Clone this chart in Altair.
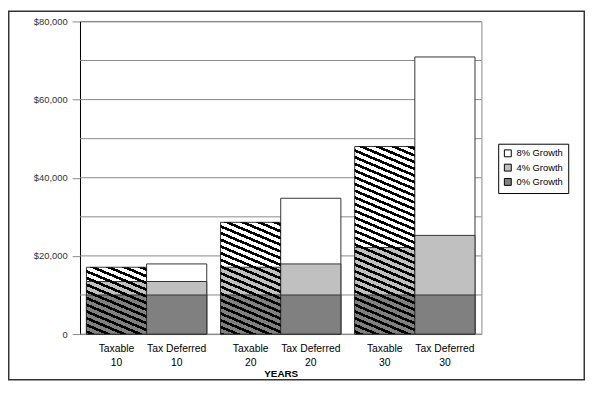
import altair as alt
import pandas as pd

# ---- data ----
years = ["10", "10", "20", "20", "30", "30"]
accounts = ["Taxable", "Tax Deferred", "Taxable", "Tax Deferred", "Taxable", "Tax Deferred"]
growth_0 = [10000, 10000, 10000, 10000, 10000, 10000]
growth_4 = [13450, 13450, 17100, 17950, 22150, 25250]
growth_8 = [17100, 17950, 28600, 34750, 48000, 70900]
series = ["8% Growth", "4% Growth", "0% Growth"]
series_colors = ["#ffffff", "#c0c0c0", "#808080"]
y_ticks = [0, 20000, 40000, 60000, 80000]
grid_values = [0, 10000, 20000, 30000, 40000, 50000, 60000, 70000, 80000]
year_order = ["10", "20", "30"]
account_order = ["Taxable", "Tax Deferred"]

W, H, YMAX = 407, 317, 80000
PI, PO = 0.103, 0.048
FONT = "Liberation Sans"

rows = []
for s, vals in zip(series, [growth_8, growth_4, growth_0]):
    for yr, ac, v in zip(years, accounts, vals):
        rows.append({"year": yr, "account": ac, "series": s, "value": v})
df = pd.DataFrame(rows)

lab = pd.DataFrame({"year": years, "account": accounts,
                    "label": [a + "\n" + y for a, y in zip(accounts, years)]})
grid_df = pd.DataFrame({"value": grid_values})

x_enc = alt.X("year:N", sort=year_order,
              scale=alt.Scale(paddingInner=PI, paddingOuter=PO),
              axis=alt.Axis(title="YEARS", labels=False, ticks=False, domain=False,
                            titlePadding=35, titleFont=FONT, titleFontSize=10,
                            titleFontWeight="bold", titleColor="#000"))
xo_enc = alt.XOffset("account:N", sort=account_order,
                     scale=alt.Scale(paddingInner=0, paddingOuter=0))
y_enc = alt.Y("value:Q", stack=None,
              scale=alt.Scale(domain=[0, YMAX], nice=False, zero=True),
              axis=alt.Axis(values=y_ticks, title=None, grid=False,
                            labelExpr="datum.value == 0 ? '0' : '$' + format(datum.value, ',')",
                            tickSize=8, tickColor="#888", domainColor="#000",
                            labelFont=FONT, labelFontSize=9.5, labelColor="#333",
                            labelPadding=5))

grid = alt.Chart(grid_df).mark_rule(color="#888", strokeWidth=1).encode(y=y_enc)

bars = alt.Chart(df).mark_bar(stroke="#333", strokeWidth=1).encode(
    x=x_enc, xOffset=xo_enc, y=y_enc,
    color=alt.Color("series:N", scale=alt.Scale(domain=series, range=series_colors),
                    legend=alt.Legend(title=None, orient="none", legendX=424, legendY=124,
                                      strokeColor="#000", fillColor="#fff", padding=5,
                                      symbolType="square", symbolSize=49,
                                      symbolStrokeColor="#000", symbolStrokeWidth=1,
                                      labelFont=FONT, labelFontSize=9.5, labelColor="#000",
                                      rowPadding=2.5, labelOffset=4)))

# hatch overlays for the taxable bars (black diagonal stripes via hard-stop gradient)
step = W / (3 - PI + 2 * PO)
bw = step * (1 - PI) / 2
m, P, b = 0.42, 6.8, 2.9


def hatch_gradient(h):
    fmin, fmax = -m * bw, h
    span = fmax - fmin
    stops = [alt.GradientStop(offset=0, color="transparent")]
    f = fmin - P + 1.0
    while f < fmax:
        fa, fb = max(f, fmin), min(f + b, fmax)
        if fb > fa:
            sa, sb = (fa - fmin) / span, (fb - fmin) / span
            stops += [alt.GradientStop(offset=sa, color="transparent"),
                      alt.GradientStop(offset=sa, color="#000"),
                      alt.GradientStop(offset=sb, color="#000"),
                      alt.GradientStop(offset=sb, color="transparent")]
        f += P
    stops.append(alt.GradientStop(offset=1, color="transparent"))
    t = (h + m * bw) / (m * m * bw * bw + h * h)
    return alt.LinearGradient(gradient="linear", stops=stops,
                              x1=1, y1=0, x2=1 - t * m * bw, y2=t * h)


hatches = []
for yr, ac, v in zip(years, accounts, growth_8):
    if ac != "Taxable":
        continue
    h = v / YMAX * H
    d = pd.DataFrame({"year": [yr], "account": [ac], "value": [v]})
    hatches.append(alt.Chart(d).mark_bar(fill=hatch_gradient(h), strokeWidth=0)
                   .encode(x=x_enc, xOffset=xo_enc, y=y_enc))

labels = alt.Chart(lab).mark_text(lineBreak="\n", baseline="top", align="center",
                                  font=FONT, fontSize=10.5, lineHeight=14,
                                  color="#000").encode(
    x=x_enc, xOffset=xo_enc, y=alt.value(327), text="label:N")

frame = alt.Chart(pd.DataFrame({"a": [0]})).mark_rect(
    fillOpacity=0, stroke="#333", strokeWidth=1.5).encode(
    x=alt.value(-72.25), x2=alt.value(511.25), y=alt.value(-10.25), y2=alt.value(363.25))

chart = alt.layer(grid, bars, *hatches, labels, frame).properties(
    width=W, height=H,
    padding={"left": 73, "top": 11, "right": 105, "bottom": 47},
    autosize=alt.AutoSizeParams(type="none"),
).configure_view(stroke="#888", strokeWidth=1)

chart.save("out.html", embed_options={"renderer": "svg", "actions": False})
